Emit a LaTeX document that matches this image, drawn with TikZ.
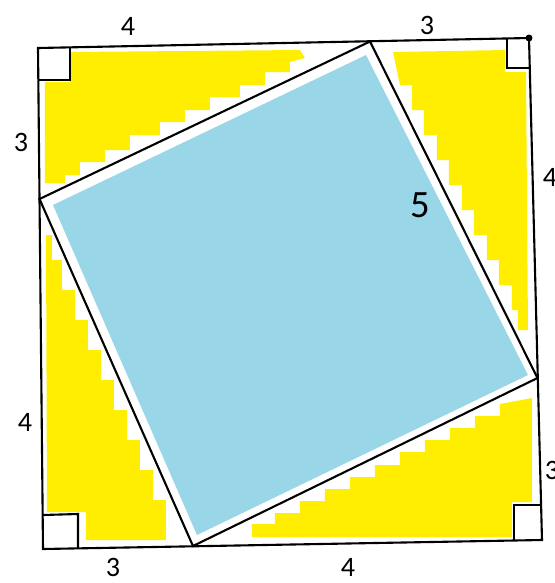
\documentclass[tikz,border=0pt]{standalone}
\usepackage{fontspec}
\setmainfont{Carlito}
\definecolor{fillyellow}{RGB}{255,238,0}
\definecolor{fillblue}{RGB}{152,214,232}
\begin{document}
\begin{tikzpicture}[x=0.02cm, y=-0.02cm, line width=1.2pt,
    side/.style={font=\fontsize{16}{16}\selectfont},
    hyp/.style={font=\fontsize{22}{22}\selectfont}]
  \useasboundingbox (0,0) rectangle (555,583);
  % corners of the big square
  \coordinate (A) at (38,48);
  \coordinate (B) at (529,38);
  \coordinate (C) at (542,540);
  \coordinate (D) at (43,549);
  % corners of the tilted square
  \coordinate (P) at (370,41.5);
  \coordinate (Q) at (537.5,378);
  \coordinate (R) at (193,546);
  \coordinate (S) at (39.5,199);
  % colouring
  \fill[fillblue] (366,55) -- (528,375) -- (197,535) -- (53,205) -- cycle;
  \fill[fillyellow] (70,52) -- (300,50) -- (305,58) -- (290,62) -- (290,72) -- (265,72) -- (265,85)
    -- (240,85) -- (240,97) -- (210,97) -- (210,110) -- (185,110) -- (185,122) -- (160,122)
    -- (160,135) -- (130,135) -- (130,150) -- (105,150) -- (105,162) -- (80,162) -- (80,175)
    -- (65,175) -- (65,183) -- (45,183) -- (45,82) -- (70,82) -- cycle;
  \fill[fillyellow] (393,52) -- (505,50) -- (505,72) -- (526,72) -- (528,330) -- (518,330)
    -- (518,310) -- (512,310) -- (512,285) -- (499,285) -- (499,260) -- (487,260) -- (487,235)
    -- (474,235) -- (474,210) -- (462,210) -- (462,185) -- (449,185) -- (449,160) -- (437,160)
    -- (437,135) -- (424,135) -- (424,110) -- (412,110) -- (412,85) -- (400,85) -- cycle;
  \fill[fillyellow] (46,235) -- (52,235) -- (52,260) -- (62,260) -- (62,290) -- (75,290)
    -- (75,320) -- (88,320) -- (88,350) -- (101,350) -- (101,380) -- (114,380) -- (114,410)
    -- (127,410) -- (127,440) -- (140,440) -- (140,470) -- (153,470) -- (153,500) -- (166,500)
    -- (166,540) -- (86,540) -- (86,512) -- (47,512) -- cycle;
  \fill[fillyellow] (252,537) -- (252,524) -- (275,524) -- (275,513) -- (300,513) -- (300,501)
    -- (325,501) -- (325,489) -- (350,489) -- (350,477) -- (375,477) -- (375,465) -- (400,465)
    -- (400,452) -- (425,452) -- (425,440) -- (450,440) -- (450,428) -- (475,428) -- (475,416)
    -- (500,416) -- (500,404) -- (532,398) -- (532,502) -- (512,502) -- (512,537) -- cycle;
  % squares
  \draw (A) -- (B) -- (C) -- (D) -- cycle;
  \draw (P) -- (Q) -- (R) -- (S) -- cycle;
  % right angle marks
  \draw (70,47) -- (70,80) -- (39,80);
  \draw (507,38.5) -- (507,68) -- (530,68);
  \draw (43,515) -- (78,514) -- (78,548);
  \draw (514,540.5) -- (514,505) -- (541,505);
  \fill (B) circle (3.5);
  % lengths
  \node[side] (top4) at (128,26) {4};
  \node[side] (top3) at (427,25) {3};
  \node[side] (left3) at (21,142) {3};
  \node[side] (left4) at (25,422) {4};
  \node[side] (bot3) at (113,567) {3};
  \node[side] (bot4) at (348,567) {4};
  \node[side] (right4) at (550,177) {4};
  \node[side] (right3) at (552,470) {3};
  \node[hyp] (hyp5) at (420,205) {5};
\end{tikzpicture}
\end{document}
